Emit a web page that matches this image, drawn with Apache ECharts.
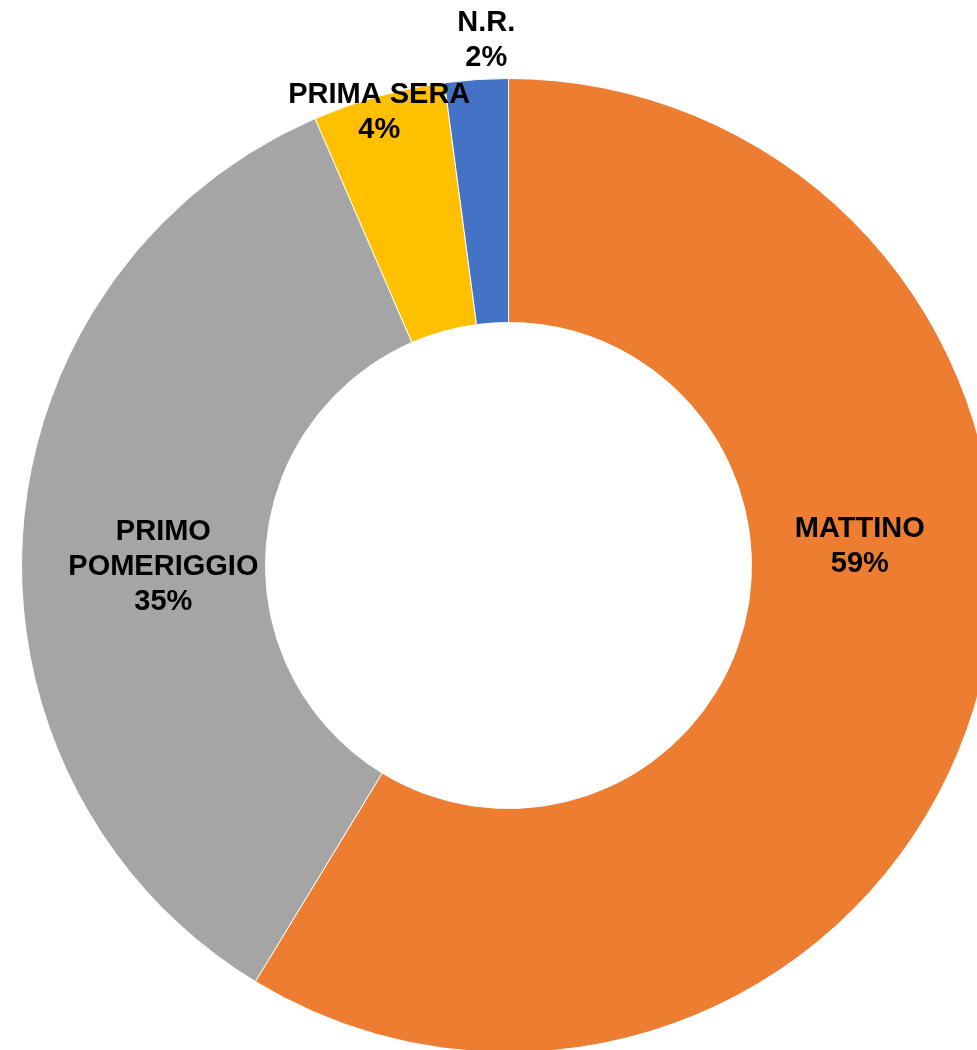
<!DOCTYPE html>
<html>
<head>
<meta charset="utf-8">
<script src="https://cdn.jsdelivr.net/npm/echarts@6/dist/echarts.min.js"></script>
<style>
  html, body { margin: 0; padding: 0; background: #fff; }
  #chart { width: 977px; height: 1050px; }
</style>
</head>
<body>
<div id="chart"></div>
<script>
const categories = ['MATTINO', 'PRIMO\nPOMERIGGIO', 'PRIMA SERA', 'N.R.']
const values = [58.7, 34.8, 4.4, 2.1]
const colors = ['#ED7D31', '#A5A5A5', '#FFC000', '#4472C4']

// label nudges from the default 'inside' spot, per slice
const labelShift = [[-3, -118], [22, 27], [-31, -98], [2, -158]]

const chart = echarts.init(document.getElementById('chart'))
chart.setOption({
  backgroundColor: '#fff',
  animation: false,
  series: [{
    type: 'pie',
    center: [508.5, 565.5],
    radius: [243, 487],
    startAngle: 90,
    clockwise: true,
    avoidLabelOverlap: false,
    itemStyle: { borderColor: '#fff', borderWidth: 1 },
    label: {
      show: true,
      position: 'inside',
      color: '#000',
      fontFamily: '"Liberation Sans", Arial, sans-serif',
      fontWeight: 'bold',
      fontSize: 29,
      lineHeight: 35,
      align: 'center',
      formatter: (p) => `${p.name}\n${Math.round(p.percent)}%`,
    },
    labelLine: { show: false },
    labelLayout: (params) => {
      const s = labelShift[params.dataIndex]
      return { dx: s[0], dy: s[1] }
    },
    data: categories.map((name, i) => ({
      name, value: values[i], itemStyle: { color: colors[i] },
    })),
  }],
})
</script>
</body>
</html>
